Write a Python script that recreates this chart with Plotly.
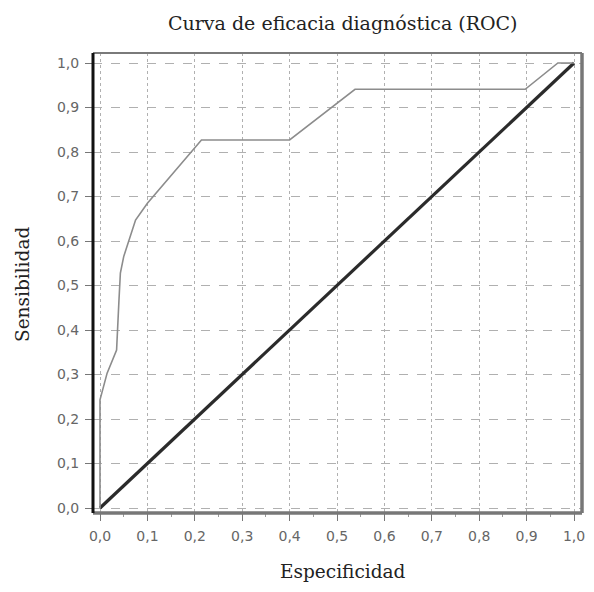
import plotly.graph_objects as go

# ROC curve points (1 - especificidad, sensibilidad)
roc_x = [0.0, 0.0, 0.015, 0.035, 0.040, 0.043, 0.050, 0.061, 0.075, 0.100, 0.214, 0.400, 0.538, 0.897, 0.966, 1.0]
roc_y = [0.0, 0.243, 0.303, 0.355, 0.467, 0.528, 0.565, 0.600, 0.647, 0.685, 0.827, 0.827, 0.941, 0.941, 1.0, 1.0]

# reference diagonal
diag_x = [0.0, 1.0]
diag_y = [0.0, 1.0]

tick_vals = [0.0, 0.1, 0.2, 0.3, 0.4, 0.5, 0.6, 0.7, 0.8, 0.9, 1.0]
tick_text = ["0,0", "0,1", "0,2", "0,3", "0,4", "0,5", "0,6", "0,7", "0,8", "0,9", "1,0"]
minor_vals = [0.05, 0.15, 0.25, 0.35, 0.45, 0.55, 0.65, 0.75, 0.85, 0.95]

title_text = "Curva de eficacia diagnóstica (ROC)"
x_title = "Especificidad"
y_title = "Sensibilidad"

# page has an 8px body margin -> figure coordinates = page - 8
OFF = 8
W, H = 586, 576
X0_PX, XSCALE = 100, 474      # page x of x=0, px per unit
Y0_PX, YSCALE = 508, 445      # page y of y=0, px per unit
FRAME_L, FRAME_R, FRAME_T, FRAME_B = 93, 582, 53, 513   # page coords of frame

L = FRAME_L - OFF
R = W - (FRAME_R - OFF)
T = FRAME_T - OFF
B = H - (FRAME_B - OFF)
PW = W - L - R
PH = H - T - B

x_lo = (FRAME_L - X0_PX) / XSCALE
x_hi = (FRAME_R - X0_PX) / XSCALE
y_lo = (Y0_PX - FRAME_B) / YSCALE
y_hi = (Y0_PX - FRAME_T) / YSCALE

fig = go.Figure()
fig.add_trace(go.Scatter(x=diag_x, y=diag_y, mode="lines",
                         line=dict(color="#2b2b2b", width=3.2), showlegend=False, hoverinfo="skip"))
fig.add_trace(go.Scatter(x=roc_x, y=roc_y, mode="lines",
                         line=dict(color="#8c8c8c", width=1.6), showlegend=False))

tickfont = dict(family="DejaVu Sans, sans-serif", size=14, color="#666666")

fig.update_layout(
    template="none",
    width=W, height=H,
    margin=dict(l=L, r=R, t=T, b=B, pad=0, autoexpand=False),
    paper_bgcolor="white", plot_bgcolor="white",
    separators=",.",
    xaxis=dict(range=[x_lo, x_hi], tickvals=tick_vals, ticktext=tick_text,
               showgrid=True, gridcolor="#b0b0b0", gridwidth=1, griddash="dot",
               zeroline=False, ticks="outside", ticklen=7, tickcolor="#777", tickwidth=1,
               minor=dict(tickvals=minor_vals, ticks="outside", ticklen=3,
                          tickcolor="#999", showgrid=False),
               ticklabelstandoff=3, ticklabeloverflow="allow", automargin=False,
               tickfont=tickfont, showline=False, fixedrange=True),
    yaxis=dict(range=[y_lo, y_hi], tickvals=tick_vals, ticktext=tick_text,
               showgrid=True, gridcolor="#b0b0b0", gridwidth=1, griddash="dash",
               zeroline=False, ticks="outside", ticklen=7, tickcolor="#777", tickwidth=1,
               ticklabelstandoff=3, ticklabeloverflow="allow", automargin=False,
               tickfont=tickfont, showline=False, fixedrange=True),
    font=dict(family="DejaVu Serif, serif"),
)

# frame (3D style border)
fig.add_shape(type="line", xref="paper", yref="paper", x0=0, x1=1, y0=1, y1=1,
              line=dict(color="#7a7a7a", width=2))
fig.add_shape(type="line", xref="paper", yref="paper", x0=1, x1=1, y0=0, y1=1,
              line=dict(color="#777777", width=3.5))
fig.add_shape(type="line", xref="paper", yref="paper", x0=0, x1=1, y0=0, y1=0,
              line=dict(color="#777777", width=3.5))
fig.add_shape(type="line", xref="paper", yref="paper", x0=0, x1=0, y0=0, y1=1,
              line=dict(color="#111111", width=3))

titlefont = dict(family="DejaVu Serif, serif", size=19, color="#222")
fig.add_annotation(text=title_text, xref="paper", yref="paper",
                   x=(343 - OFF - L) / PW, y=1 + (T - (23 - OFF)) / PH,
                   showarrow=False, xanchor="center", yanchor="middle", font=titlefont)
fig.add_annotation(text=x_title, xref="paper", yref="paper",
                   x=(343 - OFF - L) / PW, y=-((571 - OFF) - (H - B)) / PH,
                   showarrow=False, xanchor="center", yanchor="middle",
                   font=dict(family="DejaVu Serif, serif", size=18.5, color="#222"))
fig.add_annotation(text=y_title, xref="paper", yref="paper",
                   x=-(L - (22 - OFF)) / PW, y=1 - ((285 - OFF) - T) / PH, textangle=-90,
                   showarrow=False, xanchor="center", yanchor="middle",
                   font=dict(family="DejaVu Serif, serif", size=18.5, color="#222"))

fig.write_html("out.html")
